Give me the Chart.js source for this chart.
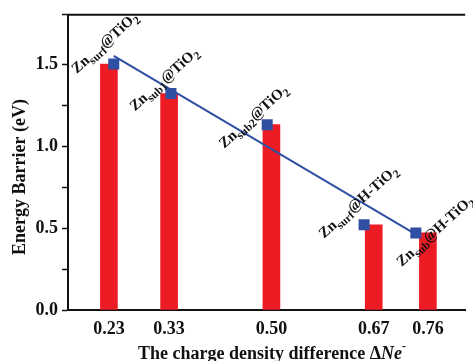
<!DOCTYPE html>
<html>
<head>
<meta charset="utf-8">
<script src="https://cdn.jsdelivr.net/npm/chart.js@4"></script>
<style>
  body { margin: 0; background: #fff; }
</style>
</head>
<body>
<canvas id="c" width="473" height="361"></canvas>
<script>
// charge density difference (x) and energy barrier (eV) for the bars
const chargeDiff = [0.23, 0.33, 0.50, 0.67, 0.76];
const barrier = [1.50, 1.32, 1.13, 0.52, 0.47];
// square markers sit a little off the bar centres in the original figure
const markerX = [0.238, 0.333, 0.493, 0.654, 0.74];
// linear fit line end points
const fitX = [0.238, 0.745];
const fitY = [1.55, 0.45];
// rotated point labels: Zn<sub>@host<sub>
const labelSub = ['surf', 'sub1', 'sub2', 'surf', 'sub'];
const labelHost = ['@TiO', '@TiO', '@TiO', '@H-TiO', '@H-TiO'];

const serif = '"Liberation Serif", "Times New Roman", serif';
const red = '#ed1c24';
const blue = '#2f4fa3';

// where each label starts, relative to its marker (px)
const labelOffset = [[-37, 10], [-36, 18], [-43, 24], [-40, 14], [-14, 34]];

const labelPlugin = {
  id: 'labels',
  afterDatasetsDraw(chart) {
    const ctx = chart.ctx;
    const xs = chart.scales.x, ys = chart.scales.y;
    ctx.save();
    ctx.fillStyle = '#111';
    ctx.textBaseline = 'alphabetic';
    for (let i = 0; i < markerX.length; i++) {
      const px = xs.getPixelForValue(markerX[i]) + labelOffset[i][0];
      const py = ys.getPixelForValue(barrier[i]) + labelOffset[i][1];
      ctx.save();
      ctx.translate(px, py);
      ctx.rotate(-42 * Math.PI / 180);
      let x = 0;
      ctx.font = 'bold 15px ' + serif;
      ctx.fillText('Zn', x, 0); x += ctx.measureText('Zn').width;
      ctx.font = 'bold 11.5px ' + serif;
      ctx.fillText(labelSub[i], x, 4); x += ctx.measureText(labelSub[i]).width;
      ctx.font = 'bold 15px ' + serif;
      ctx.fillText(labelHost[i], x, 0); x += ctx.measureText(labelHost[i]).width;
      ctx.font = 'bold 11.5px ' + serif;
      ctx.fillText('2', x, 4);
      ctx.restore();
    }
    ctx.restore();
  },
  afterDraw(chart) {
    const ctx = chart.ctx;
    const a = chart.chartArea;
    ctx.save();
    // top frame line
    ctx.strokeStyle = '#111';
    ctx.lineWidth = 2;
    ctx.beginPath();
    ctx.moveTo(a.left - 1, a.top);
    ctx.lineTo(a.right, a.top);
    ctx.stroke();
    ctx.fillStyle = '#111';
    // y title
    ctx.save();
    ctx.translate(25, 177);
    ctx.rotate(-Math.PI / 2);
    ctx.font = 'bold 18px ' + serif;
    ctx.textAlign = 'center';
    ctx.fillText('Energy Barrier (eV)', 0, 0);
    ctx.restore();
    // x title with italic Ne and superscript minus
    const p1 = 'The charge density difference ', p2 = '\u0394', p3 = 'Ne', p4 = '-';
    ctx.font = 'bold 18px ' + serif;
    const w1 = ctx.measureText(p1).width, w2 = ctx.measureText(p2).width;
    ctx.font = 'italic bold 18px ' + serif;
    const w3 = ctx.measureText(p3).width;
    ctx.font = 'bold 12px ' + serif;
    const w4 = ctx.measureText(p4).width;
    let x = 272 - (w1 + w2 + w3 + w4) / 2;
    const base = 359;
    ctx.font = 'bold 18px ' + serif;
    ctx.fillText(p1, x, base); x += w1;
    ctx.fillText(p2, x, base); x += w2;
    ctx.font = 'italic bold 18px ' + serif;
    ctx.fillText(p3, x, base); x += w3;
    ctx.font = 'bold 12px ' + serif;
    ctx.fillText(p4, x, base - 9);
    ctx.restore();
  }
};

new Chart(document.getElementById('c'), {
  type: 'bar',
  data: {
    datasets: [
      {
        type: 'scatter',
        data: markerX.map((x, i) => ({ x: x, y: barrier[i] })),
        pointStyle: 'rect',
        pointRadius: 7.8,
        backgroundColor: blue,
        borderColor: blue,
        borderWidth: 0,
        order: 0
      },
      {
        type: 'line',
        data: fitX.map((x, i) => ({ x: x, y: fitY[i] })),
        borderColor: blue,
        borderWidth: 2,
        pointRadius: 0,
        fill: false,
        order: 1
      },
      {
        type: 'bar',
        data: chargeDiff.map((x, i) => ({ x: x, y: barrier[i] })),
        backgroundColor: red,
        barThickness: 17,
        order: 2
      }
    ]
  },
  options: {
    responsive: false,
    animation: false,
    layout: { padding: { top: 12, right: 0, left: 0, bottom: 0 } },
    plugins: { legend: { display: false }, tooltip: { enabled: false } },
    scales: {
      x: {
        type: 'linear',
        offset: false,
        min: 0.162,
        max: 0.822,
        grid: { display: false, drawTicks: false, offset: false },
        border: { display: true, color: '#111', width: 2 },
        afterBuildTicks: s => { s.ticks = chargeDiff.map(v => ({ value: v })); },
        afterFit: s => { s.height = 51; },
        ticks: {
          padding: 9,
          color: '#111',
          font: { family: serif, size: 18, weight: 'bold' },
          callback: v => v.toFixed(2),
          maxRotation: 0,
          autoSkip: false
        }
      },
      y: {
        min: 0,
        max: 1.8,
        grid: { drawOnChartArea: false, drawTicks: true, tickLength: 6, color: '#111', tickWidth: 1.5 },
        border: { display: true, color: '#111', width: 2 },
        afterFit: s => { s.width = 68; },
        ticks: {
          stepSize: 0.25,
          padding: 4,
          color: '#111',
          font: { family: serif, size: 18, weight: 'bold' },
          callback: v => (Math.abs(v * 2 - Math.round(v * 2)) < 1e-6 ? v.toFixed(1) : '')
        }
      }
    }
  },
  plugins: [labelPlugin]
});
</script>
</body>
</html>
